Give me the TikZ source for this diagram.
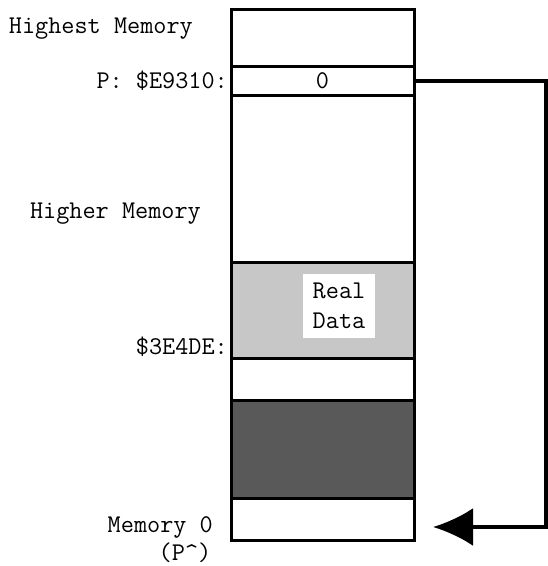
\documentclass[tikz,border=0pt]{standalone}
\usepackage{tikz}
\usetikzlibrary{positioning,arrows.meta}

\begin{document}
\begin{tikzpicture}[
    x=1pt, y=-1pt,
    node distance=0pt,
    every node/.style={font=\ttfamily\fontsize{25.5}{30}\selectfont, align=center},
    cell/.style={draw, line width=3pt, minimum width=183pt, inner sep=0pt, outer sep=0pt},
    lbl/.style={inner sep=0pt},
    ptrline/.style={line width=4pt, -{Latex[length=40pt,width=38pt]}}
]
\useasboundingbox (0,0) rectangle (548,566);

% memory cells, top to bottom
\node[cell, minimum height=57pt, anchor=north] (top) at (322.5,9) {};
\node[cell, minimum height=29pt, below=of top] (ptr) {0};
\node[cell, minimum height=167pt, below=of ptr] (gap) {};
\node[cell, minimum height=96pt, below=of gap, fill=black!22] (real) {};
\node[cell, minimum height=42pt, below=of real] (free) {};
\node[cell, minimum height=98pt, below=of free, fill=black!65] (dark) {};
\node[cell, minimum height=42pt, below=of dark] (bot) {};

\node[fill=white, inner sep=6pt, minimum width=72pt, minimum height=64pt] (realtxt) at (339,306) {Real\\Data};

% addresses
\node[lbl, anchor=east] (highest) at (193,29) {Highest Memory};
\node[lbl, anchor=east, left=3pt of ptr] (paddr) {P: \$E9310:};
\node[lbl, anchor=east] (higher) at (201,214) {Higher Memory};
\node[lbl, anchor=east] (raddr) at (228,347) {\$3E4DE:};
\node[lbl, anchor=east] (mem0) at (213,527) {Memory 0};
\node[lbl] (pref) at (185,553) {(P\textasciicircum)};

\draw[ptrline] (ptr.east) -- ++(132pt,0) |- ([yshift=-8pt,xshift=19pt]bot.east);

\end{tikzpicture}
\end{document}
